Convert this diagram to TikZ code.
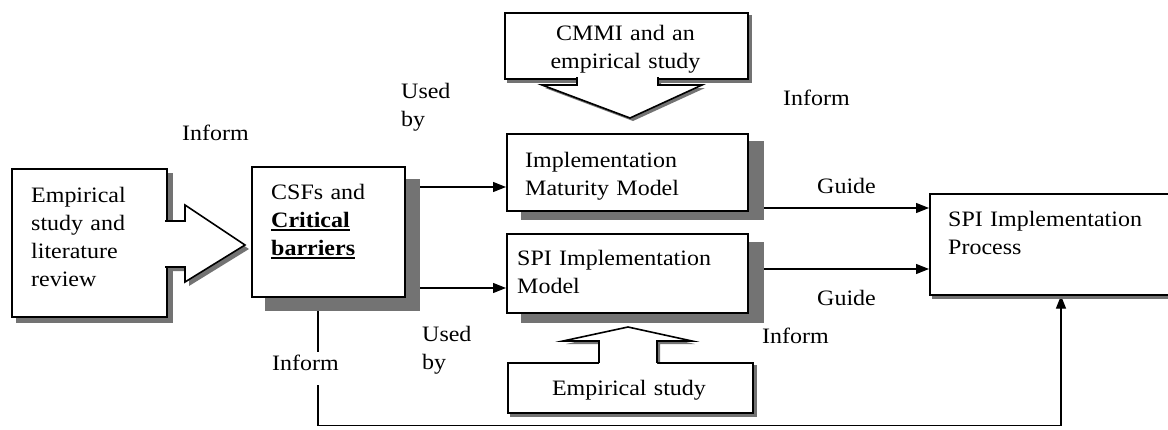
\documentclass[tikz,border=0pt]{standalone}
\usepackage{fontspec}
\setmainfont{Liberation Serif}[FakeStretch=1.09]
\usetikzlibrary{arrows.meta,calc}
\pgfdeclarelayer{bg}
\pgfdeclarelayer{shade}
\pgfsetlayers{bg,shade,main}
\newcommand\myul[1]{\setbox0=\hbox{#1}\rlap{\rule[-4pt]{\wd0}{1.8pt}}\box0}
\begin{document}
\begin{tikzpicture}[x=1pt,y=-1pt,
  font=\fontsize{22}{28}\selectfont,
  box/.style={draw, line width=1.6pt, fill=white, inner sep=0pt, anchor=north west},
  txt/.style={inner sep=0pt, anchor=base west, text width=#1, align=left},
  txt/.default=200pt,
  ctxt/.style={inner sep=0pt, anchor=base, text width=240pt, align=center},
  lbl/.style={inner sep=0pt, anchor=base west},
  conn/.style={line width=1.2pt, -{Triangle[length=13pt,width=10pt]}},
  shadowc/.style={fill=black!55},
  blk/.style={line width=1.6pt, line join=miter}]
\useasboundingbox (0,0) rectangle (1168,429);

% boxes
\node[box, minimum width=155pt, minimum height=148pt] (b1) at (11,168) {};
\node[box, minimum width=153pt, minimum height=130pt] (b2) at (251,166) {};
\node[box, minimum width=241pt, minimum height=77pt] (b3) at (506,133) {};
\node[box, minimum width=243pt, minimum height=66pt] (b4) at (504,12) {};
\node[box, minimum width=241pt, minimum height=79pt] (b5) at (506,233) {};
\node[box, minimum width=245pt, minimum height=50pt] (b6) at (507,362) {};
\node[box, minimum width=245pt, minimum height=101pt] (b7) at (929,193) {};

% texts in boxes
\node[txt=140pt] (t1) at (31,202) {Empirical\\study and\\literature\\review};
\node[txt=140pt] (t2) at (271,199) {CSFs and\\\textbf{\myul{Critical}}\\\textbf{\myul{barriers}}};
\node[txt=230pt] (t3) at (525,167) {Implementation\\Maturity Model};
\node[ctxt] (t4) at (625.5,40) {CMMI and an\\empirical study};
\node[txt=230pt] (t5) at (517,265) {SPI Implementation\\Model};
\node[ctxt] (t6) at (629,395) {Empirical study};
\node[txt=220pt] (t7) at (948,226) {SPI Implementation\\Process};

% connectors
\begin{pgfonlayer}{bg}
\draw[conn] (b2.east |- 0,187) -- (b3.west |- 0,187);
\draw[conn] (b2.east |- 0,288) -- (b5.west |- 0,288);
\draw[conn] (b3.east |- 0,208) -- (b7.west |- 0,208);
\draw[conn] (b5.east |- 0,269) -- (b7.west |- 0,269);
\draw[conn] ([xshift=67pt]b2.south west) -- ++(0,128) -| ([xshift=132pt]b7.south west);
\end{pgfonlayer}

% shadows
\begin{pgfonlayer}{shade}
\fill[shadowc] ([shift={(5,5)}]b1.north west) rectangle ([shift={(5,5)}]b1.south east);
\fill[shadowc] ([shift={(14,13)}]b2.north west) rectangle ([shift={(14,13)}]b2.south east);
\fill[shadowc] ([shift={(15,8)}]b3.north west) rectangle ([shift={(15,8)}]b3.south east);
\fill[shadowc] ([shift={(3,3)}]b4.north west) rectangle ([shift={(3,3)}]b4.south east);
\fill[shadowc] ([shift={(15,9)}]b5.north west) rectangle ([shift={(15,9)}]b5.south east);
\fill[shadowc] ([shift={(3,3)}]b6.north west) rectangle ([shift={(3,3)}]b6.south east);
\fill[shadowc] ([shift={(3,3)}]b7.north west) rectangle ([shift={(3,3)}]b7.south east);
% block arrow shadows
\fill[shadowc] (170,225) -- (189,225) -- (189,209) -- (249,249) -- (189,286) -- (189,271) -- (170,271) -- cycle;
\fill[shadowc] (580,81) -- (580,88) -- (545,88) -- (633,121) -- (705,88) -- (661,88) -- (661,81) -- cycle;
\fill[shadowc] (602,365) -- (602,344) -- (566,344) -- (631,330) -- (695,344) -- (660,344) -- (660,365) -- cycle;
\end{pgfonlayer}

% block arrows
\fill[white] (164,221) -- (185,221) -- (185,205) -- (245,245) -- (185,282) -- (185,267) -- (164,267) -- cycle;
\draw[blk] (165.2,221) -- (185,221) -- (185,205) -- (245,245) -- (185,282) -- (185,267) -- (165.2,267);
\fill[white] (577,76) -- (577,85) -- (542,85) -- (630,118) -- (702,85) -- (658,85) -- (658,76) -- cycle;
\draw[blk] (577,77.2) -- (577,85) -- (542,85) -- (630,118) -- (702,85) -- (658,85) -- (658,77.2);
\fill[white] (599,364) -- (599,341) -- (563,341) -- (628,327) -- (692,341) -- (657,341) -- (657,364) -- cycle;
\draw[blk] (599,362.8) -- (599,341) -- (563,341) -- (628,327) -- (692,341) -- (657,341) -- (657,362.8);

% labels
\node[lbl] (inf1) at (182,140) {Inform};
\node[txt=60pt] (used1) at (401,98) {Used\\by};
\node[lbl] (inf2) at (783,105) {Inform};
\node[lbl] (g1) at (817,193) {Guide};
\node[lbl] (g2) at (817,305) {Guide};
\node[lbl] (inf3) at (762,343) {Inform};
\node[txt=60pt] (used2) at (422,341) {Used\\by};
\node[lbl, fill=white, inner ysep=3pt, text depth=12pt] (inf4) at (272,370) {Inform};
\end{tikzpicture}
\end{document}
